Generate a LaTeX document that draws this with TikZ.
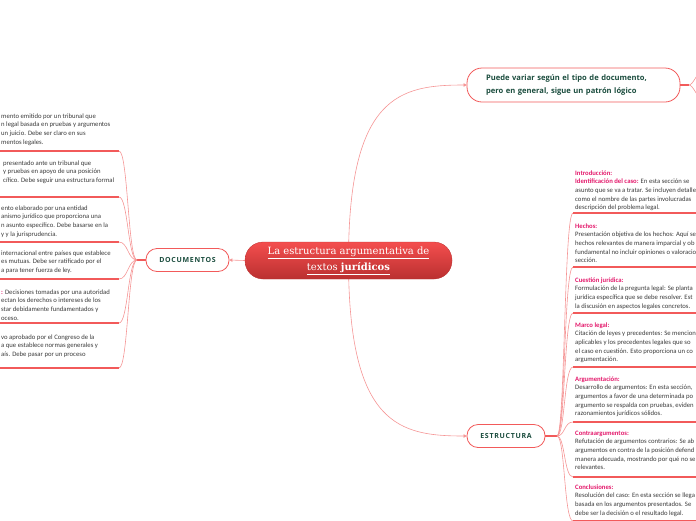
\documentclass[tikz,border=0pt]{standalone}
\usepackage{fontspec}
\setmainfont{Carlito}
\newfontfamily\zslab{DejaVu Serif}
\newfontfamily\zhead{Open Sans}
\usetikzlibrary{arrows.meta,backgrounds}
\definecolor{zredA}{HTML}{F44E4E}
\definecolor{zredB}{HTML}{BA3030}
\definecolor{zedge}{HTML}{F25A5A}
\definecolor{zpale}{HTML}{F59595}
\definecolor{zgreen}{HTML}{1B4D3E}
\definecolor{zpink}{HTML}{E3196B}
\definecolor{zgray}{HTML}{3A3A3A}
\newcommand{\zt}[1]{\textcolor{zpink}{\textbf{#1}}}

\begin{document}
\begin{tikzpicture}[x=1pt, y=-1pt,
  zmain/.style={rounded corners=18pt, top color=zredA, bottom color=zredB, draw=zredB, line width=.3pt, minimum width=207pt, minimum height=37pt, align=center, text=white, font=\zslab\fontsize{10}{16}\selectfont, inner sep=0pt},
  ztopic/.style={rounded corners=11pt, draw=zedge, fill=white, line width=.8pt, text=zgreen, font=\zhead\bfseries\fontsize{7}{13}\selectfont, inner sep=0pt, minimum height=23pt},
  ztext/.style={anchor=north west, align=left, inner sep=0pt, text=zgray, font=\fontsize{6.7}{8.6}\selectfont},
  zline/.style={draw=zpale, line width=.6pt},
  zstem/.style={draw=zedge, line width=1.2pt},
  zunder/.style={draw=zedge, line width=1.1pt},
  zarr/.style={-{Triangle[length=3pt,width=3.5pt]}}]
\useasboundingbox (0,0) rectangle (696,520);
\clip (0,0) rectangle (696,520);
% noeuds principaux
\node[zmain] (root) at (348.5,260.5) {\underline{La estructura argumentativa de}\\\underline{textos \textbf{jurídicos}}};
\node[ztopic, minimum width=83pt] (doc) at (187.5,260) {\addfontfeature{LetterSpace=10}DOCUMENTOS};
\node[ztopic, text width=175pt, align=left, inner xsep=19pt, minimum height=34pt, rounded corners=15pt, font=\zhead\bfseries\fontsize{7.6}{13}\selectfont] (var) at (573.5,85) {Puede variar según el tipo de documento,\\pero en general, sigue un patrón lógico};
\node[ztopic, minimum width=78pt] (est) at (506,436) {\addfontfeature{LetterSpace=10}ESTRUCTURA};
\begin{scope}[on background layer]
\draw[zline, zarr] (root.center) .. controls +(0,-165) and +(-67,0) .. (var.west);
\draw[zline, zarr] (root.center) .. controls +(0,165) and +(-67,0) .. (est.west);
\draw[zline, zarr] (root.west) -- (doc.east);
\end{scope}
% a gauche
\node[ztext] (sent) at (1,112) {\strut mento emitido por un tribunal que\\n legal basada en pruebas y argumentos\\un juicio. Debe ser claro en sus\\mentos legales.};
\node[ztext] (dem) at (3,159) {\strut presentado ante un tribunal que\\y pruebas en apoyo de una posición\\cífico. Debe seguir una estructura formal};
\node[ztext] (dict) at (1,204) {\strut ento elaborado por una entidad\\anismo jurídico que proporciona una\\n asunto específico. Debe basarse en la\\y y la jurisprudencia.};
\node[ztext] (trat) at (1,249) {\strut internacional entre países que establece\\es mutuas. Debe ser ratificado por el\\a para tener fuerza de ley.};
\node[ztext] (reso) at (1,288) {\strut\zt{:} Decisiones tomadas por una autoridad\\ectan los derechos o intereses de los\\star debidamente fundamentados y\\oceso.};
\node[ztext] (ley) at (1,333) {\strut vo aprobado por el Congreso de la\\a que establece normas generales y\\aís. Debe pasar por un proceso};
\coordinate (j1) at (137,260);
\draw[zstem] (doc.west) -- (j1);
\foreach \n/\yb in {sent/151, dem/197, dict/242, trat/279, reso/323, ley/368}{
  \coordinate (\n-u) at (119,\yb);
  \draw[zunder] (\n-u) -- ++(-130,0);
  \draw[zline] (j1) .. controls +(-9,0) and +(9,0) .. (\n-u);
}
% a droite
\node[ztext] (intro) at (575,169) {\strut\zt{Introducción:}\\\zt{Identificación del caso:} En esta sección se\\asunto que se va a tratar. Se incluyen detalle\\como el nombre de las partes involucradas\\descripción del problema legal.};
\node[ztext] (hech) at (575,222) {\strut\zt{Hechos:}\\Presentación objetiva de los hechos: Aquí se\\hechos relevantes de manera imparcial y ob\\fundamental no incluir opiniones o valoracio\\sección.};
\node[ztext] (cues) at (575,276) {\strut\zt{Cuestión jurídica:}\\Formulación de la pregunta legal: Se planta\\jurídica específica que se debe resolver. Est\\la discusión en aspectos legales concretos.};
\node[ztext] (marc) at (575,321) {\strut\zt{Marco legal:}\\Citación de leyes y precedentes: Se mencion\\aplicables y los precedentes legales que so\\el caso en cuestión. Esto proporciona un co\\argumentación.};
\node[ztext] (argu) at (575,375) {\strut\zt{Argumentación:}\\Desarrollo de argumentos: En esta sección,\\argumentos a favor de una determinada po\\argumento se respalda con pruebas, eviden\\razonamientos jurídicos sólidos.};
\node[ztext] (cont) at (575,429) {\strut\zt{Contraargumentos:}\\Refutación de argumentos contrarios: Se ab\\argumentos en contra de la posición defend\\manera adecuada, mostrando por qué no se\\relevantes.};
\node[ztext] (conc) at (575,483) {\strut\zt{Conclusiones:}\\Resolución del caso: En esta sección se llega\\basada en los argumentos presentados. Se\\debe ser la decisión o el resultado legal.};
\coordinate (j2) at (557,436);
\draw[zstem] (est.east) -- (j2);
\foreach \n/\yb in {intro/213, hech/267, cues/313, marc/367, argu/422, cont/477, conc/521}{
  \coordinate (\n-u) at (573,\yb);
  \draw[zunder] (\n-u) -- ++(130,0);
  \draw[zline] (j2) .. controls +(8,0) and +(-9,0) .. (\n-u);
}
\coordinate (j3) at (689,85);
\coordinate (out1) at (700,73);
\coordinate (out2) at (700,97);
\draw[zstem] (var.east) -- (j3);
\draw[zline] (j3) .. controls +(4,0) and +(-3,0) .. (out1);
\draw[zline] (j3) .. controls +(4,0) and +(-3,0) .. (out2);
\end{tikzpicture}
\end{document}
